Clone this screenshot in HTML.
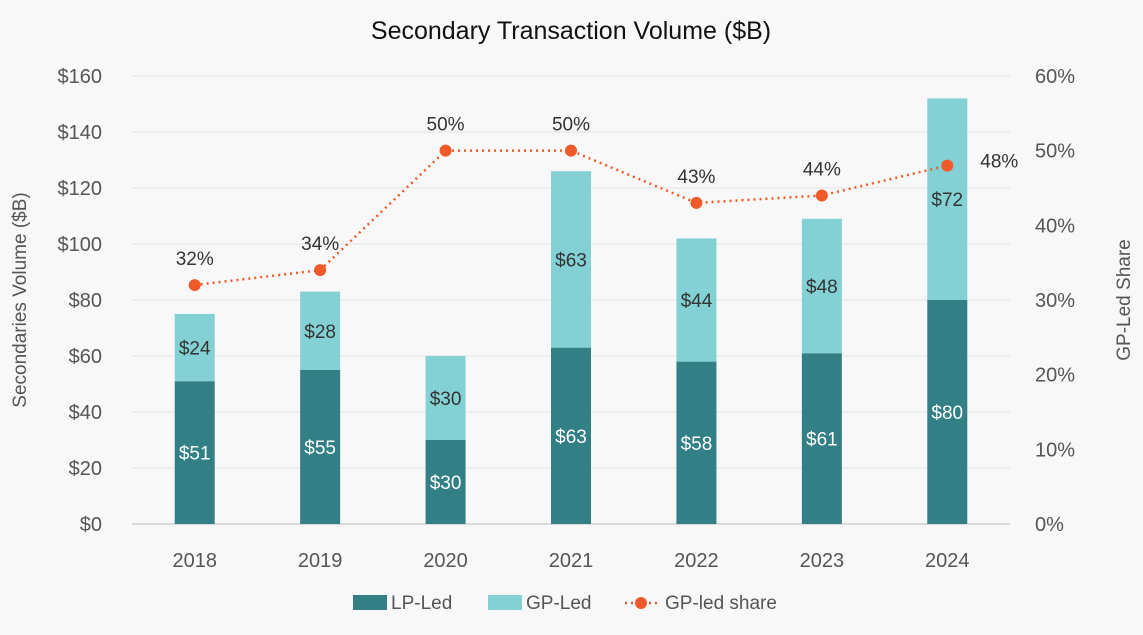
<!DOCTYPE html>
<html><head><meta charset="utf-8">
<style>
html,body{margin:0;padding:0;background:#f8f8f8;}
svg{display:block;font-family:"Liberation Sans",sans-serif;}
</style></head>
<body>
<svg id="chart" width="1143" height="635" viewBox="0 0 1143 635">
<text x="571" y="39" text-anchor="middle" font-size="25" fill="#111">Secondary Transaction Volume ($B)</text>
<text transform="translate(26,300) rotate(-90)" text-anchor="middle" font-size="19" fill="#555">Secondaries Volume ($B)</text>
<text transform="translate(1130,300) rotate(-90)" text-anchor="middle" font-size="19" fill="#555">GP-Led Share</text>
<g id="grid"></g><g id="bars"></g><g id="line"></g><g id="labels"></g>
<g>
<rect x="353" y="595" width="34" height="15" fill="#327f86"/>
<text x="391" y="609" font-size="19" fill="#555">LP-Led</text>
<rect x="488" y="595" width="34" height="15" fill="#84d1d5"/>
<text x="526" y="609" font-size="19" fill="#555">GP-Led</text>
<line x1="625" y1="603" x2="657" y2="603" stroke="#f05a2b" stroke-width="2.5" stroke-dasharray="2,4"/>
<circle cx="641" cy="603" r="6" fill="#f05a2b"/>
<text x="665" y="609" font-size="19" fill="#555">GP-led share</text>
</g>
</svg>
<script>
const years = ["2018","2019","2020","2021","2022","2023","2024"];
const lpLed = [51,55,30,63,58,61,80];
const gpLed = [24,28,30,63,44,48,72];
const gpShare = [32,34,50,50,43,44,48];
const leftTicks = [0,20,40,60,80,100,120,140,160];
const rightTicks = [0,10,20,30,40,50,60];

const NS="http://www.w3.org/2000/svg";
const x0=132, x1=1010, yB=524, yT=76;
const y=v=>yB-(v/160)*(yB-yT);
const y2=v=>yB-(v/60)*(yB-yT);
const step=(x1-x0)/years.length;
const xc=i=>x0+step*(i+0.5);
function mk(tag,attrs,parent){const e=document.createElementNS(NS,tag);for(const k in attrs)e.setAttribute(k,attrs[k]);parent.appendChild(e);return e;}
const grid=document.getElementById('grid'),bars=document.getElementById('bars'),line=document.getElementById('line'),labels=document.getElementById('labels');

leftTicks.forEach(t=>{
  const l=mk('line',{x1:x0,x2:x1,y1:y(t),y2:y(t),stroke:t===0?'#bbb':'#e2e2e2','stroke-width':1},grid);
  
  
  const tx=mk('text',{x:102,y:y(t)+7,'text-anchor':'end','font-size':20,fill:'#555'},grid);
  tx.textContent='$'+t;
  
  
});
rightTicks.forEach(t=>{
  const tx=mk('text',{x:1035,y:y2(t)+7,'font-size':20,fill:'#555'},grid);
  tx.textContent=t+'%';
  
  
});
const bw=40;
years.forEach((yr,i)=>{
  const cx=xc(i);
  const a=mk('rect',{x:cx-bw/2,y:y(lpLed[i]),width:bw,height:yB-y(lpLed[i]),fill:'#327f86'},bars);
  
  
  const b=mk('rect',{x:cx-bw/2,y:y(lpLed[i]+gpLed[i]),width:bw,height:y(lpLed[i])-y(lpLed[i]+gpLed[i]),fill:'#84d1d5'},bars);
  
  
  const t1=mk('text',{x:cx,y:(y(lpLed[i])+yB)/2+7,'text-anchor':'middle','font-size':19,fill:'#fff'},labels);
  t1.textContent='$'+lpLed[i];
  
  
  const t2=mk('text',{x:cx,y:(y(lpLed[i])+y(lpLed[i]+gpLed[i]))/2+7,'text-anchor':'middle','font-size':19,fill:'#333'},labels);
  t2.textContent='$'+gpLed[i];
  
  
  const xl=mk('text',{x:cx,y:567,'text-anchor':'middle','font-size':20,fill:'#555'},labels);
  xl.textContent=yr;
  
  
});
const pl=mk('polyline',{points:gpShare.map((v,i)=>xc(i)+','+y2(v)).join(' '),fill:'none',stroke:'#f05a2b','stroke-width':2.5,'stroke-dasharray':'2,4'},line);


gpShare.forEach((v,i)=>{
  const c=mk('circle',{cx:xc(i),cy:y2(v),r:6,fill:'#f05a2b'},line);
  
  
  const last=i===years.length-1;
  const t=mk('text',{x:last?xc(i)+52:xc(i),y:last?y2(v)+2:y2(v)-20,'text-anchor':'middle','font-size':19,fill:'#333'},labels);
  t.textContent=v+'%';
  
  
});
</script>
</body></html>
